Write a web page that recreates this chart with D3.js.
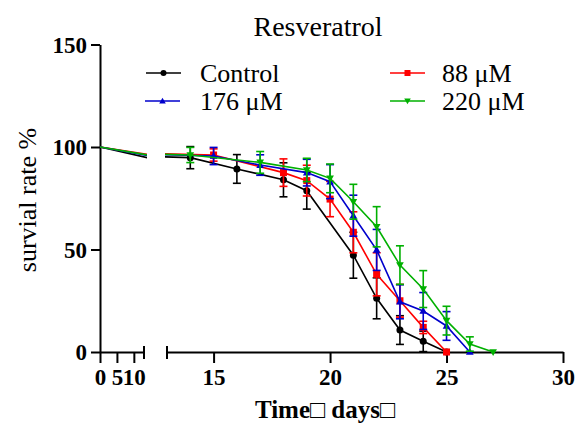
<!DOCTYPE html>
<html>
<head>
<meta charset="utf-8">
<script src="https://cdn.jsdelivr.net/npm/d3@7/dist/d3.min.js"></script>
<style>
  body { margin: 0; background: #fff; }
  svg { display: block; }
  text { font-family: "Liberation Serif", "Times New Roman", serif; fill: #000; }
</style>
</head>
<body>
<svg id="chart" width="576" height="424"></svg>
<script>
// ---- data ----
const titleText = "Resveratrol";
const yTitle = "survial rate %";
const xTitle = "Time\u25A1 days\u25A1";
const seriesNames = ["Control", "88 \u03BCM", "176 \u03BCM", "220 \u03BCM"];
const seriesColors = ["#000000", "#ff0000", "#0000cc", "#00b000"];
const seriesSymbols = ["circle", "square", "triangleUp", "triangleDown"];

const controlDays = [0, 14, 16, 18, 19, 21, 22, 23, 24, 25];
const controlMean = [100, 94.8, 89.3, 84.0, 78.7, 47.2, 26.2, 10.7, 5.2, 0];
const controlErr  = [0, 5.4, 7.0, 8.3, 9.0, 11.2, 10.0, 7.0, 5.0, 0];

const m88Days = [0, 15, 18, 19, 20, 21, 22, 23, 24, 25];
const m88Mean = [100, 96.1, 87.5, 83.6, 74.6, 58.4, 37.9, 25.0, 12.0, 0];
const m88Err  = [0, 3.0, 6.7, 7.5, 8.6, 10.0, 10.5, 8.0, 3.0, 0];

const m176Days = [0, 15, 17, 19, 20, 21, 22, 23, 24, 25, 26];
const m176Mean = [100, 95.6, 91.2, 87.5, 83.1, 66.5, 49.8, 24.5, 20.0, 12.7, 0];
const m176Err  = [0, 4.2, 5.0, 6.5, 8.3, 10.0, 10.0, 8.3, 9.0, 7.0, 0];

const m220Days = [0, 14, 17, 19, 20, 21, 22, 23, 24, 25, 26, 27];
const m220Mean = [100, 96.1, 92.5, 88.8, 84.7, 73.3, 61.1, 42.4, 30.7, 15.3, 3.9, 0];
const m220Err  = [0, 3.7, 5.3, 5.7, 7.0, 8.5, 9.8, 9.4, 9.0, 7.0, 3.5, 0];

const yTicks = [0, 50, 100, 150];
const xTicks1 = [0, 5, 10];
const xTicks2 = [15, 20, 25, 30];

// ---- build ----
const allDays = [controlDays, m88Days, m176Days, m220Days];
const allMean = [controlMean, m88Mean, m176Mean, m220Mean];
const allErr  = [controlErr, m88Err, m176Err, m220Err];

const svg = d3.select("#chart");

const y = d3.scaleLinear().domain([0, 150]).range([352, 44.5]);
const x1 = d3.scaleLinear().domain([0, 13]).range([100, 144]);
const x2 = d3.scaleLinear().domain([13, 30]).range([167, 563]);

const defs = svg.append("defs");
defs.append("clipPath").attr("id", "clip1").append("rect")
  .attr("x", 100).attr("y", 0).attr("width", 47).attr("height", 424);
defs.append("clipPath").attr("id", "clip2").append("rect")
  .attr("x", 165).attr("y", 0).attr("width", 410).attr("height", 424);

// Title
svg.append("text").attr("x", 318).attr("y", 36).attr("text-anchor", "middle")
  .style("font-size", "28px").text(titleText);

// Y axis
const yAxis = d3.axisLeft(y).tickValues(yTicks).tickSize(9).tickSizeOuter(0).tickPadding(4);
const gy = svg.append("g").attr("transform", "translate(100,0)").call(yAxis);
gy.selectAll("path, line").attr("stroke", "#000").attr("stroke-width", 2);
gy.selectAll("text").style("font-size", "23px").style("font-weight", "bold")
  .style("font-family", "'Liberation Serif', serif").attr("dy", "0.34em");

// X axis segments
function styleX(g) {
  g.selectAll("path, line").attr("stroke", "#000").attr("stroke-width", 2);
  g.selectAll("text").style("font-size", "23px").style("font-weight", "bold")
    .style("font-family", "'Liberation Serif', serif").attr("dy", "0.71em");
}
const gx1 = svg.append("g").attr("transform", "translate(0,352)")
  .call(d3.axisBottom(x1).tickValues(xTicks1).tickSize(11).tickSizeOuter(0).tickPadding(6));
styleX(gx1);
const gx2 = svg.append("g").attr("transform", "translate(0,352)")
  .call(d3.axisBottom(x2).tickValues(xTicks2).tickSize(11).tickSizeOuter(0).tickPadding(6));
styleX(gx2);
// break caps
[x1(13), x2(13)].forEach(cx => {
  svg.append("line").attr("x1", cx).attr("x2", cx).attr("y1", 346).attr("y2", 359)
    .attr("stroke", "#000").attr("stroke-width", 2);
});

// Axis titles
svg.append("text").attr("x", 325).attr("y", 418).attr("text-anchor", "middle")
  .style("font-size", "25px").style("font-weight", "bold").text(xTitle);
svg.append("text").attr("transform", "translate(36,200) rotate(-90)")
  .attr("text-anchor", "middle").style("font-size", "26px").text(yTitle);

// symbols
function drawSymbol(g, type, cx, cy, color, s) {
  if (type === "circle") {
    g.append("circle").attr("cx", cx).attr("cy", cy).attr("r", s * 0.5).attr("fill", color);
  } else if (type === "square") {
    g.append("rect").attr("x", cx - s / 2).attr("y", cy - s / 2).attr("width", s).attr("height", s).attr("fill", color);
  } else if (type === "triangleUp") {
    const h = s * 0.9;
    g.append("path").attr("d", `M${cx},${cy - h * 0.62}L${cx + s * 0.55},${cy + h * 0.45}L${cx - s * 0.55},${cy + h * 0.45}Z`).attr("fill", color);
  } else {
    const h = s * 0.9;
    g.append("path").attr("d", `M${cx},${cy + h * 0.62}L${cx + s * 0.55},${cy - h * 0.45}L${cx - s * 0.55},${cy - h * 0.45}Z`).attr("fill", color);
  }
}

// series
allDays.forEach((days, si) => {
  const color = seriesColors[si];
  const pts = days.map((d, i) => ({ d: d, m: allMean[si][i], e: allErr[si][i] }));
  const g = svg.append("g");
  [[x1, "clip1"], [x2, "clip2"]].forEach(([xs, clip]) => {
    const line = d3.line().x(p => xs(p.d)).y(p => y(p.m));
    g.append("path").datum(pts).attr("d", line).attr("fill", "none")
      .attr("stroke", color).attr("stroke-width", 1.6).attr("clip-path", `url(#${clip})`);
  });
  pts.filter(p => p.d >= 14).forEach(p => {
    const cx = x2(p.d);
    if (p.e > 0) {
      const yt = y(p.m + p.e), yb = y(Math.max(0, p.m - p.e));
      g.append("line").attr("x1", cx).attr("x2", cx).attr("y1", yt).attr("y2", yb)
        .attr("stroke", color).attr("stroke-width", 1.6);
      [yt, yb].forEach(yy => g.append("line").attr("x1", cx - 4).attr("x2", cx + 4)
        .attr("y1", yy).attr("y2", yy).attr("stroke", color).attr("stroke-width", 1.6));
    }
    drawSymbol(g, seriesSymbols[si], cx, y(p.m), color, 7);
  });
});

// legend
const legendPos = [[146, 73, 200], [390, 73, 442], [145, 101, 200], [390, 101, 442]];
seriesNames.forEach((name, i) => {
  const [lx, ly, tx] = legendPos[i];
  const g = svg.append("g");
  g.append("line").attr("x1", lx).attr("x2", lx + 35).attr("y1", ly).attr("y2", ly)
    .attr("stroke", seriesColors[i]).attr("stroke-width", 1.6);
  drawSymbol(g, seriesSymbols[i], lx + 17.5, ly, seriesColors[i], 6);
  g.append("text").attr("x", tx).attr("y", ly + 9).style("font-size", "26px").text(name);
});
</script>
</body>
</html>
